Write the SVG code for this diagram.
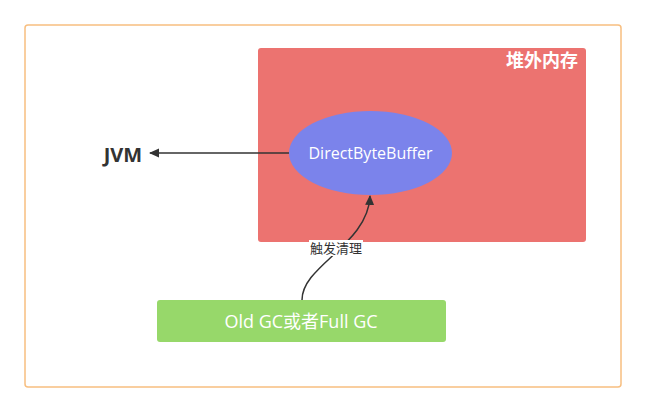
<svg xmlns="http://www.w3.org/2000/svg" width="646" height="413" viewBox="0 0 646 413">
<style>
text{font-family:"Open Sans","Noto Sans CJK SC",sans-serif}
.w{fill:#fff}
.c{fill:none;stroke:#333;stroke-width:1.5}
</style>
<defs>
<marker id="a" markerWidth="10" markerHeight="10" refX="9" refY="5" orient="auto" markerUnits="userSpaceOnUse"><path d="M0,0.5 L10,5 L0,9.5 Z" fill="#333"/></marker>
</defs>
<rect width="646" height="413" fill="#fff"/>
<g id="frame"><rect x="25" y="25" width="596" height="362" rx="3" fill="none" stroke="#f8bf80" stroke-width="1.5"/></g>
<g id="offheap"><rect x="258" y="48" width="328" height="194" rx="3" fill="#ec7370"/><text x="578" y="67" text-anchor="end" class="w" font-size="18" font-weight="bold">堆外内存</text></g>
<g id="jvm"><text x="123" y="162" text-anchor="middle" font-size="20" font-weight="bold" fill="#333">JVM</text></g>
<g id="oldgc"><rect x="157" y="300" width="289" height="42" rx="3" fill="#97d86a"/><text x="301" y="328" text-anchor="middle" class="w" font-size="18">Old GC或者Full GC</text></g>
<g id="connectors">
<path class="c" d="M289,153 L150,153" marker-end="url(#a)"/>
<path class="c" d="M302,300 C302,265 368,245 370,196" marker-end="url(#a)"/>
<rect x="309" y="240" width="54" height="16" fill="#fff"/>
<text x="336" y="253" text-anchor="middle" font-size="13" fill="#333">触发清理</text>
</g>
<g id="dbb"><ellipse cx="370.5" cy="153" rx="81.5" ry="42" fill="#7b83eb"/><text x="370.5" y="159" text-anchor="middle" class="w" font-size="16">DirectByteBuffer</text></g>
</svg>
